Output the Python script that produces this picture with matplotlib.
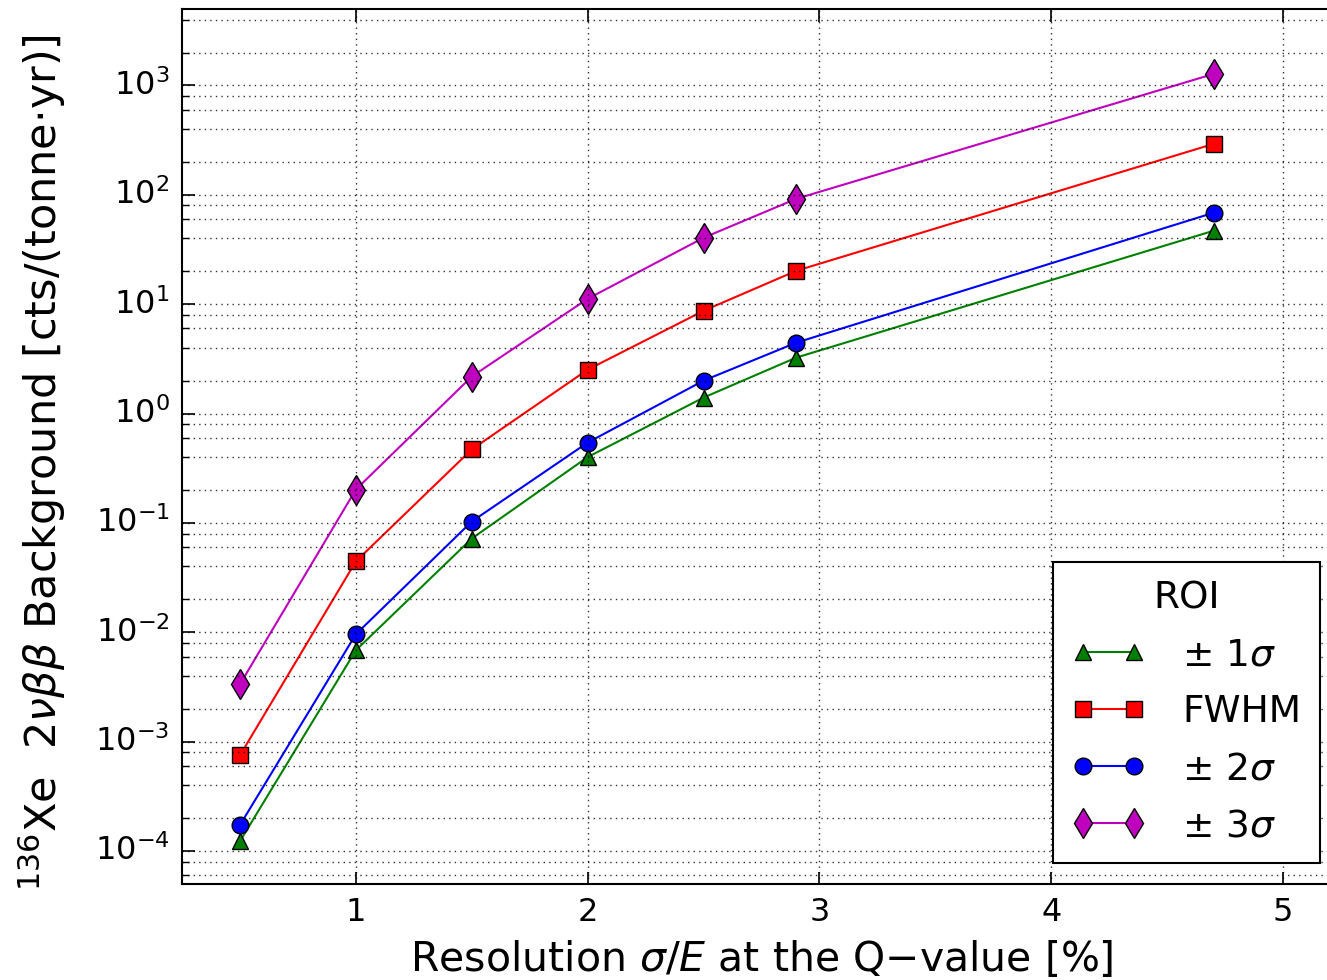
import matplotlib
matplotlib.use("Agg")
import matplotlib.pyplot as plt
from matplotlib.ticker import LogLocator, FixedLocator, NullFormatter

plt.style.use("classic")
plt.rcParams["font.family"] = ["DejaVu Sans"]
plt.rcParams["mathtext.fontset"] = "dejavusans"

# ---- data ----
resolution = [0.5, 1.0, 1.5, 2.0, 2.5, 2.9, 4.7]
roi_labels = ["\u00b1 1$\\sigma$", "FWHM", "\u00b1 2$\\sigma$", "\u00b1 3$\\sigma$"]
bkg_1sigma = [1.23e-4, 6.85e-3, 0.072, 0.40, 1.40, 3.25, 46.9]
bkg_fwhm = [7.5e-4, 0.0445, 0.47, 2.52, 8.7, 20.2, 292.0]
bkg_2sigma = [1.73e-4, 9.6e-3, 0.103, 0.543, 2.0, 4.45, 68.5]
bkg_3sigma = [3.35e-3, 0.202, 2.18, 11.2, 40.5, 92.0, 1273.0]
x_ticks = [1, 2, 3, 4, 5]

series = [bkg_1sigma, bkg_fwhm, bkg_2sigma, bkg_3sigma]
colors = ["g", "r", "b", "m"]
markers = ["^", "s", "o", "d"]
msizes = [12, 12, 12, 15]

fig = plt.figure(figsize=(13.27, 9.8), dpi=100, facecolor="white")
ax = fig.add_axes([182 / 1327, 1 - 884 / 980, 1159 / 1327, (884 - 9) / 980])
ax.set_facecolor("white")

for vals, c, m, ms, lab in zip(series, colors, markers, msizes, roi_labels):
    ax.plot(resolution, vals, color=c, marker=m, markersize=ms, lw=1.5,
            markeredgecolor="k", markeredgewidth=1.0, label=lab)

ax.set_yscale("log")
ax.set_xlim(0.25, 5.25)
ax.set_ylim(5e-5, 5e3)
ax.xaxis.set_major_locator(FixedLocator(x_ticks))
ax.yaxis.set_major_locator(LogLocator(base=10, numticks=20))
ax.yaxis.set_minor_locator(LogLocator(base=10, subs=(2, 4, 6, 8), numticks=20))
ax.yaxis.set_minor_formatter(NullFormatter())

ax.grid(True, which="major", color="k", linestyle=":", linewidth=1.0, alpha=0.8)
ax.grid(True, which="minor", axis="y", color="k", linestyle=":", linewidth=1.0, alpha=0.8)

ax.tick_params(axis="both", which="major", labelsize=23, length=9, width=1.2,
               direction="in", pad=9)
ax.tick_params(axis="both", which="minor", length=5, width=1.0, direction="in")
for s in ax.spines.values():
    s.set_linewidth(1.5)

ax.set_xlabel("Resolution $\\sigma/E$ at the Q\u2212value [%]", fontsize=29.5, labelpad=8)
ax.set_ylabel("$^{136}$Xe  $2\\nu\\beta\\beta$ Background [cts/(tonne$\\cdot$yr)]",
              fontsize=31)
ax.yaxis.set_label_coords(-0.098, 0.482)

leg = ax.legend(loc="lower right", title="ROI", fontsize=27, title_fontsize=27,
                numpoints=2, handlelength=1.95, handletextpad=1.0,
                labelspacing=0.56, borderaxespad=0.56, fancybox=False,
                framealpha=1.0, borderpad=0.5)
leg.get_frame().set_edgecolor("k")
leg.get_frame().set_linewidth(1.5)

fig.savefig("out.png", dpi=100, facecolor="white")
